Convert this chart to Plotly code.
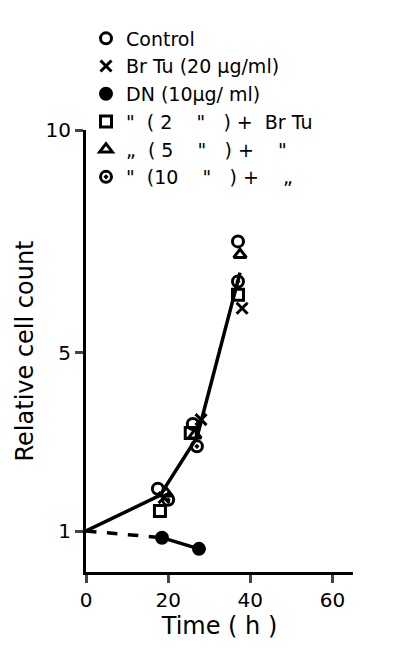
import plotly.graph_objects as go

# time (h) and relative cell counts
t_ctrl = [17.5, 26, 37]
y_ctrl = [1.95, 3.4, 7.5]
t_brtu = [19, 28, 38]
y_brtu = [1.75, 3.5, 6.0]
t_dn = [0, 18.5, 27.5]
y_dn = [1.0, 0.85, 0.6]
t_dn2 = [18, 25.5, 37]
y_dn2 = [1.45, 3.2, 6.3]
t_dn5 = [19.5, 26.5, 37.5]
y_dn5 = [1.85, 3.15, 7.2]
t_dn10 = [20, 27, 37]
y_dn10 = [1.7, 2.9, 6.6]
t_fit = [0, 18, 27, 37.5]
y_fit = [1.0, 1.8, 3.1, 6.8]

names = ["Control", "Br Tu (20 µg/ml)", "DN (10µg/ ml)",
         "\"  ( 2    \"   ) +  Br Tu", "„  ( 5    \"   ) +    \"",
         "\"  (10    \"   ) +    „"]

fig = go.Figure()
fig.add_trace(go.Scatter(x=t_fit, y=y_fit, mode="lines", showlegend=False,
                         line=dict(color="black", width=3.5)))
fig.add_trace(go.Scatter(x=t_dn[:2], y=y_dn[:2], mode="lines", showlegend=False,
                         line=dict(color="black", width=3.5, dash="dash")))
fig.add_trace(go.Scatter(x=t_dn[1:], y=y_dn[1:], mode="lines", showlegend=False,
                         line=dict(color="black", width=3.5)))

series = [
    (t_ctrl, y_ctrl, "circle-open"),
    (t_brtu, y_brtu, "x-thin-open"),
    (t_dn[1:], y_dn[1:], "circle"),
    (t_dn2, y_dn2, "square-open"),
    (t_dn5, y_dn5, "triangle-up-open"),
    (t_dn10, y_dn10, "circle-open-dot"),
]
for (tx, ty, sym), nm in zip(series, names):
    fig.add_trace(go.Scatter(
        x=tx, y=ty, mode="markers", name=nm,
        marker=dict(symbol=sym, size=11, color="black",
                    line=dict(color="black", width=3))))

fig.update_layout(
    width=400, height=648,
    margin=dict(l=78, r=55, t=97, b=84),
    plot_bgcolor="white", paper_bgcolor="white",
    font=dict(family="DejaVu Sans", size=20, color="black"),
    showlegend=True,
    legend=dict(x=0.0, y=1.25, xanchor="left", yanchor="top",
                bgcolor="rgba(0,0,0,0)", tracegroupgap=0,
                font=dict(size=19), itemwidth=30),
    xaxis=dict(range=[0, 65], tickvals=[0, 20, 40, 60], ticks="outside",
               ticklen=8, tickwidth=2.5, showline=True, linewidth=3,
               linecolor="black", showgrid=False, zeroline=False,
               title=dict(text="Time ( h )", standoff=4)),
    yaxis=dict(range=[0.08, 10], tickvals=[1, 5, 10], ticks="outside",
               ticklen=8, tickwidth=2.5, showline=True, linewidth=3,
               linecolor="black", showgrid=False, zeroline=False,
               title=dict(text="Relative cell count", standoff=6)),
)

fig.write_html("out.html")
